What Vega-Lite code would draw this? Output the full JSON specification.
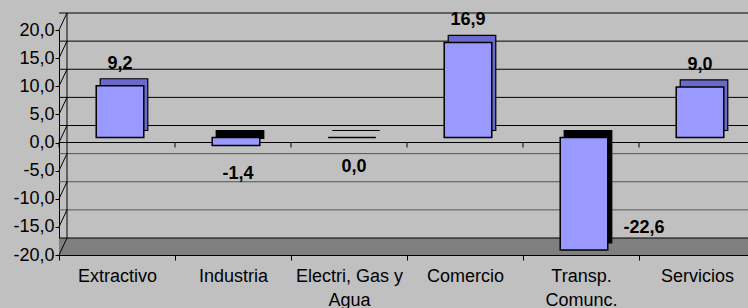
{
  "$schema": "https://vega.github.io/schema/vega-lite/v6.json",
  "width": 696,
  "height": 225,
  "autosize": {"type": "none"},
  "padding": {"left": 59, "top": 30, "right": 0, "bottom": 53},
  "background": "#c0c0c0",
  "config": {
    "view": {"stroke": null},
    "font": "Liberation Sans",
    "locale": {"number": {"decimal": ",", "thousands": ".", "grouping": [3], "currency": ["", ""], "minus": "-"}}
  },
  "resolve": {"axis": {"x": "independent", "y": "independent"}},
  "datasets": {
    "sectores": [
      {"sector": "Extractivo", "valor": 9.2},
      {"sector": "Industria", "valor": -1.4},
      {"sector": "Electri, Gas y Agua", "valor": 0.0},
      {"sector": "Comercio", "valor": 16.9},
      {"sector": "Transp. Comunc.", "valor": -22.6},
      {"sector": "Servicios", "valor": 9.0}
    ],
    "grid": [{"v": 20}, {"v": 15}, {"v": 10}, {"v": 5}, {"v": 0}, {"v": -5}, {"v": -10}, {"v": -15}, {"v": -20}]
  },
  "layer": [
    {
      "data": {"values": [{}]},
      "mark": {"type": "rect", "fill": "#808080", "y2Offset": -17},
      "encoding": {
        "y": {"datum": -20, "type": "quantitative", "scale": {"domain": [-20, 20], "clamp": true, "nice": false, "zero": false}, "axis": null},
        "y2": {"datum": -20}
      }
    },
    {
      "data": {"name": "grid"},
      "mark": {"type": "rule", "yOffset": -17, "xOffset": 8, "strokeWidth": 1},
      "encoding": {
        "y": {"field": "v", "type": "quantitative", "axis": null},
        "color": {"condition": {"test": "datum.v >= 0 || datum.v == -20", "value": "#000000"}, "value": "#555555"}
      }
    },
    {
      "data": {"name": "grid"},
      "mark": {"type": "rule", "xOffset": -58, "x2Offset": -50, "y2Offset": -17, "color": "#000000", "strokeWidth": 1},
      "encoding": {
        "x": {"datum": "Extractivo", "type": "nominal", "axis": null},
        "x2": {"datum": "Extractivo"},
        "y": {"field": "v", "type": "quantitative", "axis": null},
        "y2": {"field": "v"}
      }
    },
    {
      "data": {"values": [{}]},
      "mark": {"type": "rule", "xOffset": -50, "yOffset": -17, "y2Offset": -17, "color": "#000000", "strokeWidth": 1},
      "encoding": {
        "x": {"datum": "Extractivo", "type": "nominal", "axis": null},
        "y": {"datum": 20, "type": "quantitative", "axis": null},
        "y2": {"datum": -20}
      }
    },
    {
      "data": {"values": [{}]},
      "mark": {"type": "rule", "color": "#000000", "strokeWidth": 1.2},
      "encoding": {"y": {"datum": 0, "type": "quantitative", "axis": null}}
    },
    {
      "data": {"name": "sectores"},
      "mark": {"type": "rule", "color": "#000000", "xOffset": -58, "y2Offset": 5, "strokeWidth": 1},
      "encoding": {
        "x": {"field": "sector", "type": "nominal", "sort": null, "axis": null},
        "y": {"datum": 0, "type": "quantitative", "axis": null},
        "y2": {"datum": 0}
      }
    },
    {
      "data": {"name": "sectores"},
      "mark": {"type": "bar", "width": {"band": 0.41}, "xOffset": 7, "yOffset": -12, "y2Offset": -12, "stroke": "#000000", "strokeWidth": 1.2},
      "encoding": {
        "x": {"field": "sector", "type": "nominal", "sort": null, "axis": null},
        "y": {"field": "valor", "type": "quantitative", "axis": null},
        "y2": {"datum": 0},
        "fill": {"condition": {"test": "datum.valor < 0", "value": "#000000"}, "value": "#6a6acc"}
      }
    },
    {
      "data": {"name": "sectores"},
      "mark": {"type": "bar", "width": {"band": 0.41}, "xOffset": 3, "yOffset": -5, "y2Offset": -5, "fill": "#9999ff", "stroke": "#000000", "strokeWidth": 1.5},
      "encoding": {
        "x": {"field": "sector", "type": "nominal", "sort": null,
          "scale": {"paddingInner": 0, "paddingOuter": 0},
          "axis": {"title": null, "domainColor": "#000000", "tickColor": "#000000", "tickSize": 5, "tickBand": "extent", "labelAngle": 0, "labelAlign": "center", "labelBaseline": "top", "labelFontSize": 18, "labelColor": "#000000", "labelPadding": 7, "labelLineHeight": 24, "labelFont": "Liberation Sans", "labelOverlap": false,
            "labelExpr": "datum.label == 'Electri, Gas y Agua' ? ['Electri, Gas y', 'Agua'] : datum.label == 'Transp. Comunc.' ? ['Transp.', 'Comunc.'] : datum.label"}},
        "y": {"field": "valor", "type": "quantitative",
          "axis": {"values": [-20, -15, -10, -5, 0, 5, 10, 15, 20], "format": ".1f", "title": null, "grid": false, "labelOverlap": false, "domainColor": "#000000", "tickColor": "#000000", "tickSize": 4, "labelFontSize": 18, "labelColor": "#000000", "labelPadding": 1, "labelFont": "Liberation Sans"}},
        "y2": {"datum": 0}
      }
    },
    {
      "data": {"name": "sectores"},
      "transform": [{"filter": "datum.valor > 0"}],
      "mark": {"type": "text", "dy": -27, "dx": 3, "fontSize": 18, "fontWeight": "bold", "color": "#000000"},
      "encoding": {
        "x": {"field": "sector", "type": "nominal", "sort": null, "axis": null},
        "y": {"field": "valor", "type": "quantitative", "axis": null},
        "text": {"field": "valor", "type": "quantitative", "format": ".1f"}
      }
    },
    {
      "data": {"name": "sectores"},
      "transform": [{"filter": "datum.valor <= 0 && datum.valor >= -20"}],
      "mark": {"type": "text", "dy": 24, "dx": 5, "fontSize": 18, "fontWeight": "bold", "color": "#000000"},
      "encoding": {
        "x": {"field": "sector", "type": "nominal", "sort": null, "axis": null},
        "y": {"field": "valor", "type": "quantitative", "axis": null},
        "text": {"field": "valor", "type": "quantitative", "format": ".1f"}
      }
    },
    {
      "data": {"name": "sectores"},
      "transform": [{"filter": "datum.valor < -20"}],
      "mark": {"type": "text", "dy": -27, "dx": 63, "fontSize": 18, "fontWeight": "bold", "color": "#000000"},
      "encoding": {
        "x": {"field": "sector", "type": "nominal", "sort": null, "axis": null},
        "y": {"field": "valor", "type": "quantitative", "axis": null},
        "text": {"field": "valor", "type": "quantitative", "format": ".1f"}
      }
    }
  ]
}
